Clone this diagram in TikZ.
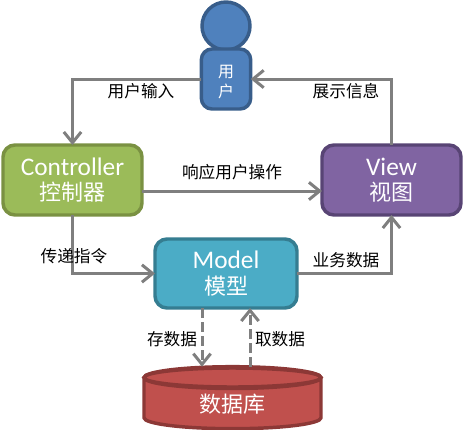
\documentclass[tikz,border=0pt]{standalone}
\usepackage{fontspec}
\setmainfont{Carlito}
\newfontfamily\cjk{Noto Sans CJK SC}
\newcommand{\cjkline}[1]{{\fontsize{16.5}{19}\selectfont\cjk #1}}
\usetikzlibrary{arrows.meta,shapes.geometric}
\definecolor{UserFill}{RGB}{79, 129, 189}
\definecolor{UserLine}{RGB}{56, 93, 138}
\definecolor{CtrlFill}{RGB}{155, 187, 89}
\definecolor{CtrlLine}{RGB}{122, 145, 66}
\definecolor{ViewFill}{RGB}{128, 100, 162}
\definecolor{ViewLine}{RGB}{88, 68, 116}
\definecolor{ModelFill}{RGB}{75, 172, 198}
\definecolor{ModelLine}{RGB}{53, 125, 145}
\definecolor{DbFill}{RGB}{192, 80, 77}
\definecolor{DbLine}{RGB}{140, 56, 54}
\definecolor{Wire}{RGB}{127, 127, 127}

\begin{document}
\begin{tikzpicture}[x=0.75pt,y=-0.75pt,
    mvcbox/.style={draw,rectangle,rounded corners=9pt,line width=2.6pt,outer sep=0pt,
      minimum width=104.25pt,minimum height=52.5pt,inner sep=0pt,align=center,
      text=white,font=\fontsize{19}{19}\selectfont},
    wire/.style={draw=Wire,line width=2.25pt,-{Straight Barb[length=8pt,width=13pt]}},
    dashwire/.style={wire,dash pattern=on 7.5pt off 3pt},
    tag/.style={inner sep=0pt,font=\fontsize{12.5}{15}\selectfont\cjk}]
  \useasboundingbox (0,0) rectangle (464,429);
  \node[circle,draw=UserLine,fill=UserFill,line width=2.6pt,outer sep=0pt,inner sep=0pt,
    minimum size=36pt] (head) at (226,26) {};
  \node[mvcbox,draw=UserLine,fill=UserFill,rounded corners=8pt,minimum width=37pt,minimum height=45pt,
    font=\fontsize{12}{14.5}\selectfont\cjk] (user) at (226,79) {\rule{0pt}{14pt}用\\户};
  \node[mvcbox,draw=CtrlLine,fill=CtrlFill] (controller) at (72.5,180) {Controller\\\cjkline{控制器}};
  \node[mvcbox,draw=ViewLine,fill=ViewFill] (view) at (391.5,180) {View\\\cjkline{视图}};
  \node[mvcbox,draw=ModelLine,fill=ModelFill,minimum width=106.5pt,minimum height=51.75pt] (model) at (226,273.5) {Model\\\cjkline{模型}};
  \node[cylinder,shape border rotate=90,aspect=0.33,draw=DbLine,line width=2.6pt,outer sep=0pt,inner sep=0pt,
    cylinder uses custom fill,cylinder body fill=DbFill,cylinder end fill=DbFill,
    minimum width=132.75pt,minimum height=46.5pt,text=white,font=\fontsize{16.5}{19}\selectfont\cjk] (db) at (232.5,404) {数据库};
  \draw[DbLine,line width=2.6pt] (232.5,377.5) ellipse (88.5 and 9.5);

  \draw[wire] (user.west) -| (controller.north);
  \draw[wire] (view.north) |- (user.east);
  \draw[wire] ([yshift=-8.25pt]controller.east) -- ([yshift=-8.25pt]view.west);
  \draw[wire] (controller.south) |- (model.west);
  \draw[wire] (model.east) -| (view.south);
  \draw[dashwire] ([xshift=-18pt]model.south) -- ([xshift=-18pt]model.south |- db.north);
  \draw[dashwire] ([xshift=18pt]model.south |- db.north) -- ([xshift=18pt]model.south);

  \node[tag] (input) at (141,91) {用户输入};
  \node[tag] (show) at (346,91) {展示信息};
  \node[tag] (respond) at (232,172) {响应用户操作};
  \node[tag] (pass) at (74,256) {传递指令};
  \node[tag] (business) at (346,260) {业务数据};
  \node[tag] (store) at (172,339) {存数据};
  \node[tag] (fetch) at (280,339) {取数据};
\end{tikzpicture}
\end{document}
